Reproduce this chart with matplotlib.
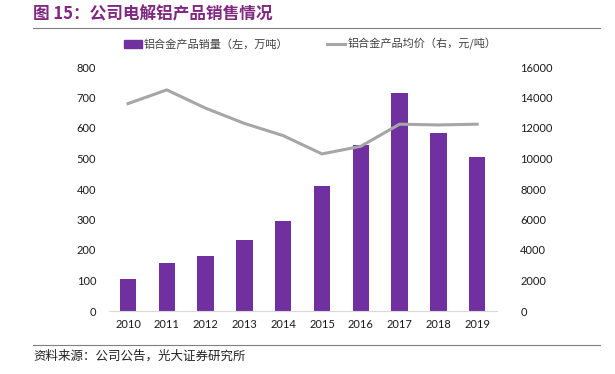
import matplotlib
matplotlib.use("Agg")
import matplotlib.pyplot as plt
from matplotlib.lines import Line2D
from matplotlib.patches import Patch

plt.rcParams['font.family'] = ['Noto Sans CJK SC', 'DejaVu Sans']

# data
years = ['2010', '2011', '2012', '2013', '2014', '2015', '2016', '2017', '2018', '2019']
sales = [105, 157, 180, 233, 295, 410, 545, 715, 585, 505]          # 万吨 (left)
price = [13600, 14500, 13300, 12300, 11500, 10300, 10800, 12250, 12200, 12250]  # 元/吨 (right)

purple = '#7030A0'
grey = '#A6A6A6'

fig = plt.figure(figsize=(6.15, 3.74), dpi=100)
ax = fig.add_axes([108.6 / 615, 1 - 311 / 374, 388 / 615, 244 / 374])
ax2 = ax.twinx()

x = range(len(years))
ax.bar(x, sales, width=0.42, color=purple, zorder=2)
ax2.plot(x, price, color=grey, lw=2.2, zorder=3)

ax.set_xlim(-0.5, 9.5)
ax.set_ylim(0, 800)
ax.set_yticks(range(0, 801, 100))
ax2.set_ylim(0, 16000)
ax2.set_yticks(range(0, 16001, 2000))
ax.set_xticks(list(x))
ax.set_xticklabels(years)

for a in (ax, ax2):
    for s in a.spines.values():
        s.set_visible(False)
    a.tick_params(length=0, labelsize=8, labelcolor='#1a1a1a')
    for lab in a.get_xticklabels() + a.get_yticklabels():
        lab.set_family('Lato')
ax.spines['bottom'].set_visible(True)
ax.spines['bottom'].set_color('#D9D9D9')
ax.tick_params(axis='y', pad=9)
ax.tick_params(axis='x', pad=6)
ax2.tick_params(axis='y', pad=17)

# legend
handles = [Patch(color=purple), Line2D([0], [0], color=grey, lw=2.2)]
labels = ['铝合金产品销量（左，万吨）', '铝合金产品均价（右，元/吨）']
fig.legend(handles, labels, loc='center', bbox_to_anchor=(310 / 615, 1 - 44 / 374),
           ncol=2, frameon=False, fontsize=8, handlelength=1.6, handletextpad=0.2,
           columnspacing=3.5, labelcolor='#404040')

# title and source
fig.text(33 / 615, 1 - 14 / 374, '图 15：公司电解铝产品销售情况', color='#80287F',
         fontsize=12, fontweight='bold', va='center', ha='left')
fig.add_artist(Line2D([33 / 615, 600 / 615], [1 - 28 / 374] * 2, color='#7F7F7F', lw=0.8))
fig.add_artist(Line2D([33 / 615, 600 / 615], [1 - 345 / 374] * 2, color='#7F7F7F', lw=0.8))
fig.text(33 / 615, 1 - 356 / 374, '资料来源：公司公告，光大证券研究所', fontsize=9,
         va='center', ha='left', color='#222222')

fig.savefig('out.png', dpi=100)
